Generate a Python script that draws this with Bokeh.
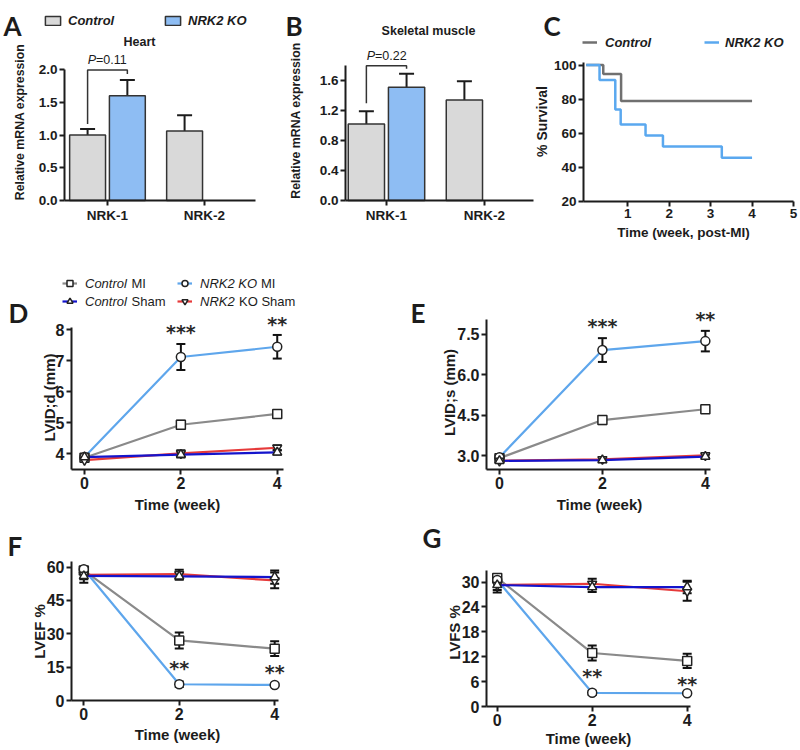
import numpy as np
from bokeh.plotting import figure
from bokeh.layouts import column, row
from bokeh.models import (Range1d, FixedTicker, Label, Legend, LegendItem, Whisker,
                          ColumnDataSource, TeeHead)
from bokeh.core.properties import value
from bokeh.embed import file_html
from bokeh.resources import INLINE

# ---------------- data ----------------
genes = ["NRK-1", "NRK-2"]
heart_control = [1.00, 1.06]
heart_control_err = [0.09, 0.24]
heart_ko = [1.60]            # KO bar only shown for NRK-1
heart_ko_err = [0.24]
muscle_control = [1.02, 1.34]
muscle_control_err = [0.17, 0.25]
muscle_ko = [1.51]
muscle_ko_err = [0.18]
heart_p = "0.11"
muscle_p = "0.22"
heart_yticks = [0.0, 0.5, 1.0, 1.5, 2.0]
muscle_yticks = [0.0, 0.4, 0.8, 1.2, 1.6]

surv_control_t = [0.0, 0.41, 0.84, 4.0]
surv_control = [100.0, 94.7, 78.9, 78.9]
surv_ko_t = [0.0, 0.32, 0.70, 0.83, 1.43, 1.85, 3.27, 4.0]
surv_ko = [100.0, 91.3, 73.9, 65.2, 58.7, 52.2, 45.7, 45.7]
surv_xticks = [1, 2, 3, 4, 5]
surv_yticks = [20, 40, 60, 80, 100]

weeks = [0, 2, 4]
week_ticks = [0, 2, 4]

lvidd_control_mi = [3.88, 4.94, 5.29]
lvidd_control_mi_err = [0.08, 0.13, 0.09]
lvidd_ko_mi = [3.90, 7.12, 7.45]
lvidd_ko_mi_err = [0.07, 0.42, 0.38]
lvidd_control_sham = [3.90, 3.98, 4.05]
lvidd_control_sham_err = [0.06, 0.09, 0.07]
lvidd_ko_sham = [3.80, 4.02, 4.20]
lvidd_ko_sham_err = [0.05, 0.10, 0.08]
lvidd_yticks = [4, 5, 6, 7, 8]
lvidd_stars = ["***", "**"]

lvids_control_mi = [2.92, 4.33, 4.73]
lvids_control_mi_err = [0.08, 0.15, 0.12]
lvids_ko_mi = [2.95, 6.92, 7.25]
lvids_ko_mi_err = [0.08, 0.44, 0.38]
lvids_control_sham = [2.82, 2.85, 2.98]
lvids_control_sham_err = [0.05, 0.08, 0.07]
lvids_ko_sham = [2.82, 2.88, 3.02]
lvids_ko_sham_err = [0.05, 0.07, 0.08]
lvids_yticks = [3.0, 4.5, 6.0, 7.5]
lvids_stars = ["***", "**"]

lvef_control_mi = [58.5, 27.0, 23.3]
lvef_control_mi_err = [1.5, 3.6, 3.3]
lvef_ko_mi = [59.0, 7.3, 7.0]
lvef_ko_mi_err = [1.0, 1.2, 0.6]
lvef_control_sham = [56.0, 55.8, 55.5]
lvef_control_sham_err = [3.0, 1.5, 3.0]
lvef_ko_sham = [56.5, 56.8, 54.0]
lvef_ko_sham_err = [2.0, 2.0, 3.5]
lvef_yticks = [0, 15, 30, 45, 60]
lvef_stars = ["**", "**"]

lvfs_control_mi = [31.0, 12.9, 11.0]
lvfs_control_mi_err = [0.8, 1.8, 1.7]
lvfs_ko_mi = [30.5, 3.3, 3.2]
lvfs_ko_mi_err = [0.5, 0.5, 0.3]
lvfs_control_sham = [29.3, 28.8, 28.8]
lvfs_control_sham_err = [1.8, 1.2, 1.5]
lvfs_ko_sham = [29.3, 29.6, 27.8]
lvfs_ko_sham_err = [1.2, 1.2, 2.3]
lvfs_yticks = [0, 6, 12, 18, 24, 30]
lvfs_stars = ["**", "**"]

# ---------------- style ----------------
FONT = "Liberation Sans"
INK = "#1c1c1c"
GREY_BAR = "#d9d9d9"
BLUE_BAR = "#8ebdf3"
C_CTRL = "#707070"
C_KO = "#5aa8ef"
S_COLORS = ["#8a8a8a", "#5ea6ec", "#1414cc", "#e63a3a"]
S_MARKERS = ["square", "circle", "triangle", "inverted_triangle"]


def make_fig(box, region, xr, yr, tick_size):
    """box: figure (x0, y0, w, h) on the page; region: axes box (L, R, T, B) on the page."""
    x0, y0, w, h = box
    L, R, T, B = region
    kx = (xr[1] - xr[0]) / (R - L)
    ky = (yr[1] - yr[0]) / (B - T)
    X0 = xr[0] - (L - x0) * kx
    X1 = xr[1] + (x0 + w - R) * kx
    Y0 = yr[0] - (y0 + h - B) * ky
    Y1 = yr[1] + (T - y0) * ky
    p = figure(width=w, height=h, x_range=Range1d(X0, X1), y_range=Range1d(Y0, Y1),
               output_backend="svg", toolbar_location=None,
               min_border_left=0, min_border_right=0, min_border_top=0, min_border_bottom=0)
    p.title.visible = False
    p.outline_line_color = None
    p.xgrid.visible = False
    p.ygrid.visible = False
    p.xaxis[0].fixed_location = yr[0]
    p.xaxis[0].bounds = (xr[0], xr[1])
    p.yaxis[0].fixed_location = xr[0]
    p.yaxis[0].bounds = (yr[0], yr[1])
    for ax in (p.xaxis[0], p.yaxis[0]):
        ax.axis_line_width = 2
        ax.axis_line_color = INK
        ax.major_tick_line_width = 2
        ax.major_tick_line_color = INK
        ax.major_tick_in = 0
        ax.major_tick_out = 5
        ax.minor_tick_line_color = None
        ax.major_label_text_font = FONT
        ax.major_label_text_font_style = "bold"
        ax.major_label_text_font_size = tick_size
        ax.major_label_text_color = INK
        ax.major_label_standoff = 2
    fr = dict(L=x0, B=y0 + h, ppy=(B - T) / (yr[1] - yr[0]))
    return p, fr


def put(p, fr, X, Y, text, size, style="bold", align="center", baseline="middle",
        angle=0.0, font=FONT, color=INK):
    p.add_layout(Label(x=X - fr["L"], y=fr["B"] - Y, x_units="screen", y_units="screen",
                       text=text, text_font=font, text_font_size=size,
                       text_font_style=style, text_align=align, text_baseline=baseline,
                       angle=angle, text_color=color))


def legend_at(p, fr, X, Yc, label, renderers, gw, gh, standoff, size, style, lh=16):
    leg = Legend(items=[LegendItem(label=value(label), renderers=renderers)],
                 location=(X - fr["L"], fr["B"] - (Yc + lh / 2.0)),
                 orientation="horizontal", glyph_width=gw, glyph_height=gh,
                 label_height=lh, label_standoff=standoff, padding=0, margin=0,
                 spacing=0, border_line_color=None, background_fill_alpha=0,
                 label_text_font=FONT, label_text_font_size=size,
                 label_text_font_style=style, label_text_color=INK)
    p.add_layout(leg)


def bar_panel(p, fr, ctrl, ctrl_err, ko, ko_err, yticks, pval, bracket_px):
    n = len(genes)
    xc = [i + 1 - 0.205 for i in range(n)]
    xk = [i + 1 + 0.205 for i in range(len(ko))]
    for xs, vals, errs in ((xc, ctrl, ctrl_err), (xk, ko, ko_err)):
        src = ColumnDataSource(dict(x=xs, top=vals, hi=[v + e for v, e in zip(vals, errs)]))
        p.add_layout(Whisker(base="x", lower="top", upper="hi", source=src,
                             line_color=INK, line_width=2, lower_head=None,
                             upper_head=TeeHead(size=15, line_color=INK, line_width=2)))
    rc = p.vbar(x=xc, top=ctrl, width=0.37, bottom=0, fill_color=GREY_BAR,
                line_color="#333333", line_width=1.5)
    rk = p.vbar(x=xk, top=ko, width=0.37, bottom=0, fill_color=BLUE_BAR,
                line_color="#333333", line_width=1.5)
    p.xaxis[0].ticker = FixedTicker(ticks=[i + 1 for i in range(n)])
    p.xaxis[0].major_label_overrides = {i + 1: g for i, g in enumerate(genes)}
    p.yaxis[0].ticker = FixedTicker(ticks=yticks)
    p.yaxis[0].major_label_overrides = {t: f"{t:.1f}" for t in yticks}
    # significance bracket
    top_px, left_px, right_px = bracket_px
    ppy = fr["ppy"]
    yt = ko[0] + ko_err[0] + top_px / ppy
    yl = ctrl[0] + ctrl_err[0] + left_px / ppy
    yr_ = yt - right_px / ppy
    p.line([xc[0], xc[0], xk[0], xk[0]], [yl, yt, yt, yr_], line_color="#333333",
           line_width=1.5)
    xm = (xc[0] + xk[0]) / 2
    p.add_layout(Label(x=xm, y=yt, x_offset=-11.5, y_offset=10, text="P",
                       text_font=FONT, text_font_size="12.5px", text_font_style="italic",
                       text_align="right", text_baseline="middle", text_color=INK))
    p.add_layout(Label(x=xm, y=yt, x_offset=-11.5, y_offset=10, text="=" + pval,
                       text_font=FONT, text_font_size="12.5px", text_font_style="normal",
                       text_align="left", text_baseline="middle", text_color=INK))
    return rc, rk


def line_panel(p, fr, vals, errs, yticks, stars, star_dy, fmt):
    rends = [None] * 4
    for i in (0, 1, 3, 2):
        rl = p.line(weeks, vals[i], line_color=S_COLORS[i], line_width=2.2)
        src = ColumnDataSource(dict(x=weeks, lo=[v - e for v, e in zip(vals[i], errs[i])],
                                    hi=[v + e for v, e in zip(vals[i], errs[i])]))
        p.add_layout(Whisker(base="x", lower="lo", upper="hi", source=src,
                             line_color="#111111", line_width=2,
                             upper_head=TeeHead(size=9, line_color="#111111", line_width=2),
                             lower_head=TeeHead(size=9, line_color="#111111", line_width=2)))
        rends[i] = [rl]
    for i in (0, 1, 3, 2):
        rm = p.scatter(weeks, vals[i], marker=S_MARKERS[i], size=9, fill_color="white",
                       line_color="#222222", line_width=1.5)
        rends[i].append(rm)
    p.xaxis[0].ticker = FixedTicker(ticks=week_ticks)
    p.yaxis[0].ticker = FixedTicker(ticks=yticks)
    p.yaxis[0].major_label_overrides = {t: fmt(t) for t in yticks}
    ko, koe = vals[1], errs[1]
    for k, s in enumerate(stars):
        j = k + 1
        p.add_layout(Label(x=weeks[j], y=ko[j] + koe[j], y_offset=star_dy[k], text=s,
                           text_font="DejaVu Sans", text_font_size="19px",
                           text_font_style="bold",
                           text_align="center", text_baseline="alphabetic",
                           text_color="#2a2a2a"))
    return rends


# ---------------- row 1 ----------------
pA, fA = make_fig((0, 0, 264, 250), (64, 255, 69, 200), (0.557, 2.526), (0.0, 2.0), "13.5px")
rc, rk = bar_panel(pA, fA, heart_control, heart_control_err, heart_ko, heart_ko_err,
                   heart_yticks, heart_p, (10, 5, 4))
put(pA, fA, 3, 25, "A", "26px", font="Lato", align="left", baseline="alphabetic")
legend_at(pA, fA, 43, 20.5, "Control", [rc], 19, 11, 6, "13px", "bold italic")
legend_at(pA, fA, 163, 20.5, "NRK2 KO", [rk], 19, 11, 6, "13px", "bold italic")
put(pA, fA, 139, 41, "Heart", "12.5px")
put(pA, fA, 19, 121.5, "Relative mRNA expression", "12.3px", angle=np.pi / 2)

pB, fB = make_fig((264, 0, 270, 250), (345, 533, 65, 200), (0.582, 2.50), (0.0, 1.8), "13.5px")
bar_panel(pB, fB, muscle_control, muscle_control_err, muscle_ko, muscle_ko_err,
          muscle_yticks, muscle_p, (8, 8, 3))
put(pB, fB, 285, 25, "B", "26px", font="Lato", align="left", baseline="alphabetic")
put(pB, fB, 428, 30, "Skeletal muscle", "12.5px")
put(pB, fB, 295, 120, "Relative mRNA expression", "12.3px", angle=np.pi / 2)

pC, fC = make_fig((534, 0, 266, 250), (583, 793, 62, 201), (-0.067, 5.0), (20, 101.5), "13.5px")
r1 = pC.step(surv_control_t, surv_control, mode="after", line_color=C_CTRL, line_width=2.5)
r2 = pC.step(surv_ko_t, surv_ko, mode="after", line_color=C_KO, line_width=2.5)
pC.xaxis[0].ticker = FixedTicker(ticks=surv_xticks)
pC.yaxis[0].ticker = FixedTicker(ticks=surv_yticks)
put(pC, fC, 543, 25, "C", "26px", font="Lato", align="left", baseline="alphabetic")
legend_at(pC, fC, 582, 42, "Control", [r1], 15, 16, 8, "13px", "bold italic")
legend_at(pC, fC, 704, 42, "NRK2 KO", [r2], 15, 16, 6, "13px", "bold italic")
put(pC, fC, 541, 121, "% Survival", "14px", angle=np.pi / 2)
put(pC, fC, 683, 232, "Time (week, post-MI)", "13.5px")

# ---------------- row 2 ----------------
pD, fD = make_fig((0, 250, 400, 268), (71, 283, 327, 469), (-0.27, 4.13), (3.5, 8.07), "16px")
rD = line_panel(pD, fD, [lvidd_control_mi, lvidd_ko_mi, lvidd_control_sham, lvidd_ko_sham],
                [lvidd_control_mi_err, lvidd_ko_mi_err, lvidd_control_sham_err, lvidd_ko_sham_err],
                lvidd_yticks, lvidd_stars, [11.5, 10.5], lambda t: f"{t:g}")
put(pD, fD, 8, 312, "D", "26px", font="Lato", align="left", baseline="alphabetic")
legend_at(pD, fD, 62, 283, "Control", rD[0], 15, 16, 8, "13px", "italic")
put(pD, fD, 131, 283, "MI", "13px", style="normal", align="left")
legend_at(pD, fD, 177, 283, "NRK2 KO", rD[1], 15, 16, 8, "13px", "italic")
put(pD, fD, 260.5, 283, "MI", "13px", style="normal", align="left")
legend_at(pD, fD, 62, 301, "Control", rD[2], 15, 16, 8, "13px", "italic")
put(pD, fD, 131, 301, "Sham", "13px", style="normal", align="left")
legend_at(pD, fD, 177, 301, "NRK2", rD[3], 15, 16, 8, "13px", "italic")
put(pD, fD, 238.5, 301, "KO Sham", "13px", style="normal", align="left")
put(pD, fD, 48.5, 397, "LVID;d (mm)", "15px", angle=np.pi / 2)
put(pD, fD, 177, 504, "Time (week)", "15px")

pE, fE = make_fig((400, 250, 400, 268), (486, 710, 319, 469), (-0.252, 4.10), (2.5, 8.05), "16px")
line_panel(pE, fE, [lvids_control_mi, lvids_ko_mi, lvids_control_sham, lvids_ko_sham],
           [lvids_control_mi_err, lvids_ko_mi_err, lvids_control_sham_err, lvids_ko_sham_err],
           lvids_yticks, lvids_stars, [12.0, 12.0], lambda t: f"{t:.1f}")
put(pE, fE, 410, 312, "E", "26px", font="Lato", align="left", baseline="alphabetic")
put(pE, fE, 448.5, 392, "LVID;s (mm)", "15px", angle=np.pi / 2)
put(pE, fE, 599, 504, "Time (week)", "15px")

# ---------------- row 3 ----------------
pF, fF = make_fig((0, 518, 400, 232), (71, 278, 561, 700), (-0.258, 4.08), (0.0, 62.5), "16px")
line_panel(pF, fF, [lvef_control_mi, lvef_ko_mi, lvef_control_sham, lvef_ko_sham],
           [lvef_control_mi_err, lvef_ko_mi_err, lvef_control_sham_err, lvef_ko_sham_err],
           lvef_yticks, lvef_stars, [14.0, 11.5], lambda t: f"{t:g}")
put(pF, fF, 7, 545, "F", "26px", font="Lato", align="left", baseline="alphabetic")
put(pF, fF, 39, 631, "LVEF %", "15px", angle=np.pi / 2)
put(pF, fF, 177, 734, "Time (week)", "15px")

pG, fG = make_fig((400, 518, 400, 232), (486, 690, 570, 706), (-0.226, 4.07), (0.0, 32.8), "16px")
line_panel(pG, fG, [lvfs_control_mi, lvfs_ko_mi, lvfs_control_sham, lvfs_ko_sham],
           [lvfs_control_mi_err, lvfs_ko_mi_err, lvfs_control_sham_err, lvfs_ko_sham_err],
           lvfs_yticks, lvfs_stars, [15.0, 8.0], lambda t: f"{t:g}")
put(pG, fG, 422, 537, "G", "26px", font="Lato", align="left", baseline="alphabetic")
put(pG, fG, 454, 632, "LVFS %", "15px", angle=np.pi / 2)
put(pG, fG, 588, 738, "Time (week)", "15px")

layout = column(row(pA, pB, pC), row(pD, pE), row(pF, pG))
open("out.html", "w").write(file_html(layout, INLINE))
